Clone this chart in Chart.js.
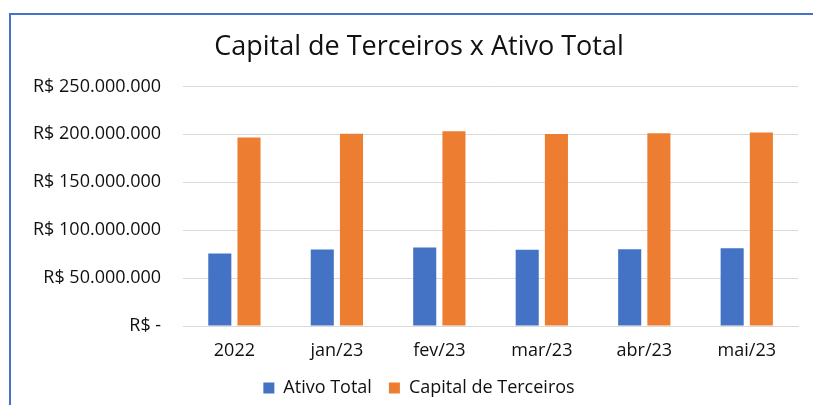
<!DOCTYPE html>
<html>
<head>
<meta charset="utf-8">
<script src="https://cdn.jsdelivr.net/npm/chart.js@4.4.0/dist/chart.umd.min.js"></script>
<style>
  html, body { margin: 0; padding: 0; background: #fff; overflow: hidden; }
  #frame {
    position: absolute; left: 9px; top: 13px;
    width: 830px; height: 400px;
    border-top: 2px solid #4472C4; border-left: 2px solid #4472C4;
  }
  #wrap { position: absolute; left: 0; top: 0; width: 816px; height: 392px; }
</style>
</head>
<body>
<div id="frame"><div id="wrap"><canvas id="chart"></canvas></div></div>
<script>
// categories and values (R$)
const categories = ["2022", "jan/23", "fev/23", "mar/23", "abr/23", "mai/23"];
const ativoTotal = [75700000, 79900000, 82000000, 79500000, 80200000, 81200000];
const capitalTerceiros = [196600000, 200700000, 203100000, 200300000, 201000000, 202000000];
const yTicks = [0, 50000000, 100000000, 150000000, 200000000, 250000000];

function formatBRL(v) {
  if (v === 0) return "R$ -";
  return "R$ " + v.toString().replace(/\B(?=(\d{3})+(?!\d))/g, ".");
}

const ctx = document.getElementById("chart");
new Chart(ctx, {
  type: "bar",
  data: {
    labels: categories,
    datasets: [{
      label: "Ativo Total",
      data: ativoTotal,
      backgroundColor: "#4472C4",
      categoryPercentage: 0.57,
      barPercentage: 0.79
    }, {
      label: "Capital de Terceiros",
      data: capitalTerceiros,
      backgroundColor: "#ED7D31",
      categoryPercentage: 0.57,
      barPercentage: 0.79
    }]
  },
  options: {
    responsive: true,
    maintainAspectRatio: false,
    animation: false,
    layout: { padding: { left: 0, right: 0, top: 0, bottom: 0 } },
    plugins: {
      title: {
        display: true,
        text: "Capital de Terceiros x Ativo Total",
        color: "#111",
        font: { family: "'Open Sans'", size: 27, weight: "normal" },
        padding: { top: 16, bottom: 23 }
      },
      legend: {
        position: "bottom",
        labels: {
          color: "#111",
          font: { family: "'Open Sans'", size: 18 },
          boxWidth: 11,
          boxHeight: 11,
          padding: 17
        }
      },
      tooltip: { enabled: false }
    },
    scales: {
      y: {
        min: 0,
        max: 250000000,
        afterBuildTicks: axis => { axis.ticks = yTicks.map(v => ({ value: v })); },
        ticks: {
          color: "#111",
          font: { family: "'Open Sans'", size: 18 },
          padding: 22,
          callback: v => formatBRL(v)
        },
        grid: { color: "#d9d9d9", drawTicks: false },
        border: { display: false }
      },
      // empty right-hand gutter so the title and legend stay centred on the frame
      yRight: {
        position: "right",
        ticks: { display: false },
        grid: { display: false, drawTicks: false },
        border: { display: false },
        afterFit: axis => { axis.width = 29; }
      },
      x: {
        ticks: {
          color: "#111",
          font: { family: "'Open Sans'", size: 18 },
          padding: 14
        },
        grid: { display: false, drawTicks: false },
        border: { color: "#d9d9d9" },
        afterFit: axis => { axis.height = 36; }
      }
    }
  }
});
</script>
</body>
</html>
